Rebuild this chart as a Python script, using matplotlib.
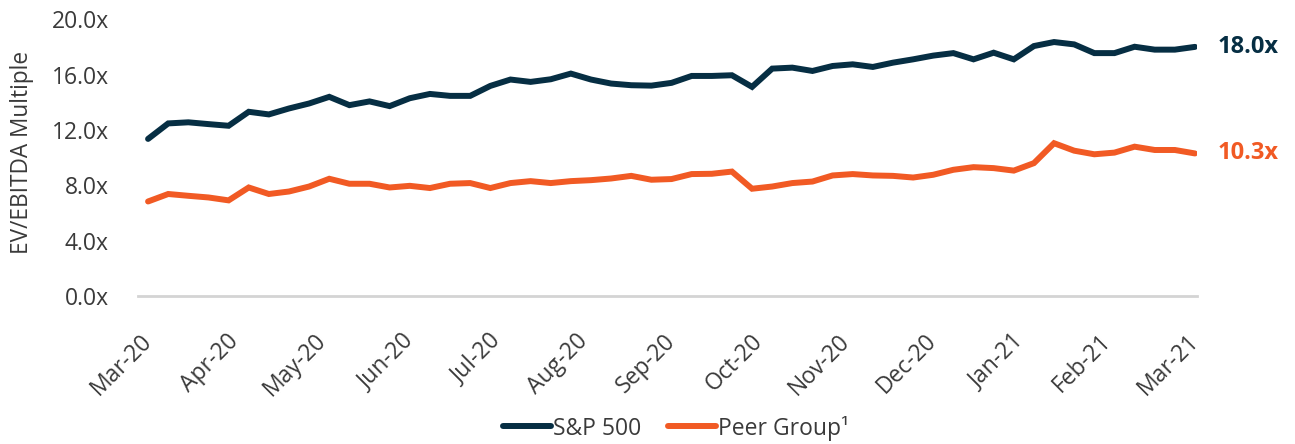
import matplotlib
matplotlib.use("Agg")
import matplotlib.pyplot as plt

# Data (weekly, Mar-20 to Mar-21)
sp500 = [11.35, 12.47, 12.55, 12.42, 12.30, 13.31, 13.12, 13.55, 13.91, 14.39,
         13.79, 14.06, 13.72, 14.29, 14.60, 14.46, 14.46, 15.18, 15.64, 15.47,
         15.66, 16.07, 15.64, 15.35, 15.23, 15.20, 15.40, 15.90, 15.90, 15.95,
         15.11, 16.43, 16.50, 16.26, 16.62, 16.74, 16.55, 16.86, 17.10, 17.37,
         17.55, 17.10, 17.58, 17.10, 18.06, 18.35, 18.18, 17.55, 17.55, 18.01,
         17.80, 17.80, 18.00]
peer = [6.83, 7.37, 7.24, 7.12, 6.91, 7.84, 7.37, 7.55, 7.91, 8.47,
        8.11, 8.11, 7.84, 7.96, 7.80, 8.11, 8.16, 7.80, 8.16, 8.30,
        8.16, 8.30, 8.37, 8.49, 8.68, 8.40, 8.45, 8.81, 8.83, 8.99,
        7.75, 7.91, 8.16, 8.27, 8.71, 8.81, 8.71, 8.68, 8.56, 8.76,
        9.12, 9.31, 9.24, 9.06, 9.60, 11.04, 10.50, 10.24, 10.36, 10.79,
        10.55, 10.55, 10.30]
month_labels = ["Mar-20", "Apr-20", "May-20", "Jun-20", "Jul-20", "Aug-20", "Sep-20",
                "Oct-20", "Nov-20", "Dec-20", "Jan-21", "Feb-21", "Mar-21"]
y_ticks = [0, 4, 8, 12, 16, 20]

navy = "#062E43"
orange = "#F15A24"
text_col = "#3A3A3A"

plt.rcParams["font.family"] = ["Open Sans", "DejaVu Sans"]

W, H = 1295, 444
fig = plt.figure(figsize=(W / 100, H / 100), dpi=100)
ax = fig.add_axes([138 / W, 1 - 296.0 / H, 1059 / W, (296.0 - 19.2) / H])

x = list(range(len(sp500)))
ax.plot(x, sp500, color=navy, lw=4.3, solid_capstyle="round", solid_joinstyle="miter",
        label="S&P 500", zorder=3)
ax.plot(x, peer, color=orange, lw=4.3, solid_capstyle="round", solid_joinstyle="miter",
        label="Peer Group¹", zorder=3)

ax.set_xlim(-0.5, 52.1)
ax.set_ylim(0, 20)

n = len(sp500) - 1
ax.set_xticks([i * n / 12 for i in range(13)])
ax.set_xticklabels(month_labels, rotation=45, ha="right", va="center",
                   rotation_mode="anchor", fontsize=16.5, color=text_col)
ax.set_yticks(y_ticks)
ax.set_yticklabels([f"{v:.1f}x" for v in y_ticks], fontsize=16.5, color=text_col)
ax.tick_params(length=0, axis="y", pad=21)
ax.tick_params(length=0, axis="x", pad=30)

for s in ["top", "right", "left"]:
    ax.spines[s].set_visible(False)
ax.spines["bottom"].set_color("#D4D4D4")
ax.spines["bottom"].set_linewidth(2)

fig.text(22 / W, 1 - 152 / H, "EV/EBITDA Multiple", rotation=90, ha="center",
         va="center", fontsize=16.3, color=text_col)

ax.annotate(f"{sp500[-1]:.1f}x", xy=(x[-1], sp500[-1]), xytext=(16, 0),
            textcoords="offset points", va="center", ha="left",
            fontsize=17, fontweight="bold", color=navy)
ax.annotate(f"{peer[-1]:.1f}x", xy=(x[-1], peer[-1]), xytext=(16, 0),
            textcoords="offset points", va="center", ha="left",
            fontsize=17, fontweight="bold", color=orange)

fig.legend(loc="center", bbox_to_anchor=(0.522, 1 - 428 / H), ncol=2, frameon=False,
           fontsize=16.5, handlelength=2.1, handletextpad=0.05, columnspacing=1.2,
           labelcolor=text_col, borderpad=0)

fig.savefig("out.png", dpi=100)
